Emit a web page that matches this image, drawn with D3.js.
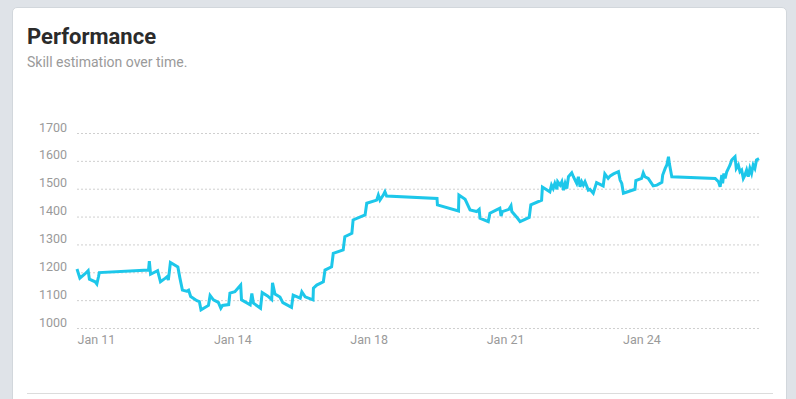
<!DOCTYPE html>
<html lang="en">
<head>
<meta charset="UTF-8">
<title>Performance</title>
<script src="https://cdn.jsdelivr.net/npm/d3@7"></script>
<style>
  body { margin: 0; background: #dfe3e8; font-family: Roboto, "Helvetica Neue", Arial, sans-serif; }
  #card {
    position: absolute; left: 12px; top: 7px; width: 773px; height: 430px;
    background: #fff; border: 1px solid #d2d7dc; border-radius: 5px;
  }
  #chart { position: absolute; left: 0; top: 0; }
</style>
</head>
<body>
<div id="card"></div>
<svg id="chart" width="796" height="399"></svg>
<script>
// day of January (fractional) for each rating update
const days = [
  11.50, 11.57, 11.69, 11.77, 11.80, 11.94, 11.98, 12.02, 12.04, 13.23,
  13.25, 13.28, 13.45, 13.52, 13.63, 13.68, 13.71, 13.76, 13.94, 13.99,
  14.05, 14.15, 14.20, 14.25, 14.40, 14.46, 14.50, 14.68, 14.72, 14.80,
  14.92, 14.98, 15.02, 15.17, 15.20, 15.32, 15.46, 15.48, 15.69, 15.73,
  15.77, 15.94, 15.98, 16.11, 16.21, 16.23, 16.29, 16.41, 16.48, 16.69,
  16.73, 16.90, 16.94, 17.02, 17.21, 17.22, 17.30, 17.46, 17.50, 17.66,
  17.70, 17.94, 17.98, 18.15, 18.18, 18.47, 18.51, 18.75, 18.79, 18.83,
  18.91, 18.95, 18.99, 20.21, 20.22, 20.73, 20.74, 20.89, 21.01, 21.17,
  21.23, 21.25, 21.45, 21.49, 21.65, 21.73, 21.76, 21.79, 21.95, 22.00,
  22.02, 22.16, 22.22, 22.44, 22.48, 22.74, 22.76, 22.94, 22.98, 23.02,
  23.06, 23.11, 23.13, 23.19, 23.23, 23.27, 23.31, 23.35, 23.39, 23.47,
  23.51, 23.55, 23.59, 23.63, 23.67, 23.71, 23.75, 23.79, 23.87, 23.91,
  23.99, 24.07, 24.23, 24.27, 24.35, 24.40, 24.48, 24.60, 24.64, 24.68,
  24.72, 25.00, 25.02, 25.16, 25.20, 25.24, 25.32, 25.44, 25.53, 25.65,
  25.67, 25.73, 25.77, 25.81, 25.83, 25.86, 25.89, 26.94, 27.02, 27.06,
  27.10, 27.12, 27.15, 27.18, 27.22, 27.26, 27.30, 27.34, 27.38, 27.42,
  27.45, 27.50, 27.54, 27.58, 27.62, 27.66, 27.70, 27.74, 27.78, 27.82,
  27.86, 27.90, 27.94, 28.00
];

const skill = [
  1212, 1179, 1194, 1206, 1175, 1166, 1158, 1184, 1199, 1208,
  1240, 1193, 1206, 1166, 1178, 1184, 1172, 1235, 1219, 1179,
  1136, 1132, 1136, 1113, 1098, 1095, 1065, 1081, 1117, 1101,
  1092, 1071, 1081, 1084, 1125, 1130, 1154, 1101, 1083, 1124,
  1089, 1071, 1127, 1115, 1102, 1162, 1122, 1111, 1091, 1074,
  1118, 1107, 1130, 1112, 1101, 1143, 1154, 1166, 1208, 1220,
  1268, 1280, 1328, 1340, 1388, 1406, 1448, 1459, 1477, 1459,
  1477, 1489, 1474, 1465, 1442, 1420, 1477, 1462, 1424, 1418,
  1426, 1394, 1382, 1412, 1424, 1430, 1402, 1418, 1426, 1439,
  1418, 1394, 1382, 1397, 1442, 1459, 1506, 1489, 1513, 1501,
  1519, 1498, 1525, 1513, 1525, 1495, 1519, 1501, 1543, 1557,
  1543, 1531, 1519, 1543, 1507, 1525, 1513, 1525, 1495, 1498,
  1484, 1522, 1510, 1553, 1537, 1546, 1553, 1561, 1531, 1519,
  1484, 1498, 1529, 1537, 1557, 1543, 1537, 1510, 1513, 1523,
  1549, 1573, 1585, 1615, 1591, 1567, 1543, 1537, 1525, 1507,
  1549, 1519, 1555, 1537, 1561, 1573, 1585, 1603, 1609, 1615,
  1573, 1585, 1561, 1567, 1537, 1549, 1567, 1543, 1573, 1555,
  1585, 1573, 1603, 1608
];

const yTicks = [1000, 1100, 1200, 1300, 1400, 1500, 1600, 1700];
const xTickLabels = ["Jan 11", "Jan 14", "Jan 18", "Jan 21", "Jan 24"];

const svg = d3.select("#chart");

const plotLeft = 77, plotRight = 759, plotTop = 133, plotBottom = 328;

const data = days.map((d, i) => ({ day: d, value: skill[i] }));

const x = d3.scaleLinear()
  .domain(d3.extent(days))
  .range([plotLeft, plotRight]);

const y = d3.scaleLinear()
  .domain([1000, 1700])
  .range([plotBottom, plotTop]);

// header
svg.append("text")
  .attr("x", 27).attr("y", 44)
  .attr("font-size", 22).attr("font-weight", 700)
  .attr("fill", "#2b2b2b")
  .text("Performance");

svg.append("text")
  .attr("x", 27).attr("y", 67)
  .attr("font-size", 14)
  .attr("fill", "#9a9a9a")
  .text("Skill estimation over time.");

// horizontal grid
svg.append("g")
  .selectAll("line")
  .data(yTicks)
  .join("line")
  .attr("x1", plotLeft).attr("x2", plotRight)
  .attr("y1", d => y(d) + 0.5).attr("y2", d => y(d) + 0.5)
  .attr("stroke", "#cfcfcf")
  .attr("stroke-dasharray", "2 2");

// y labels
const yAxis = d3.axisLeft(y)
  .tickValues(yTicks)
  .tickFormat(d3.format("d"))
  .tickSize(0)
  .tickPadding(0);
svg.append("g")
  .attr("transform", `translate(67, 0)`)
  .call(yAxis)
  .call(g => g.select(".domain").remove())
  .call(g => g.selectAll("text")
    .attr("dy", null)
    .attr("y", -2)
    .attr("fill", "#9a9a9a")
    .attr("font-size", 12.5)
    .attr("font-family", "Roboto, sans-serif"));

// x labels, evenly spread across the time range
const [d0, d1] = x.domain();
const xTickVals = xTickLabels.map((_, i) => d0 + i * (d1 - d0) / xTickLabels.length);
const xAxis = d3.axisBottom(x)
  .tickValues(xTickVals)
  .tickSize(0)
  .tickPadding(0)
  .tickFormat((d, i) => xTickLabels[i]);
svg.append("g")
  .attr("transform", `translate(0, ${plotBottom})`)
  .call(xAxis)
  .call(g => g.select(".domain").remove())
  .call(g => g.selectAll("text")
    .attr("dy", null)
    .attr("y", 15.5)
    .attr("text-anchor", "start")
    .attr("fill", "#9a9a9a")
    .attr("font-size", 12.5)
    .attr("font-family", "Roboto, sans-serif"));

// skill line
const line = d3.line()
  .x(d => x(d.day))
  .y(d => y(d.value));

svg.append("path")
  .datum(data)
  .attr("d", line)
  .attr("fill", "none")
  .attr("stroke", "#1dc7ea")
  .attr("stroke-width", 3)
  .attr("stroke-linejoin", "miter");

// footer separator
svg.append("line")
  .attr("x1", 27).attr("x2", 773)
  .attr("y1", 393.5).attr("y2", 393.5)
  .attr("stroke", "#dcdcdc");
</script>
</body>
</html>
